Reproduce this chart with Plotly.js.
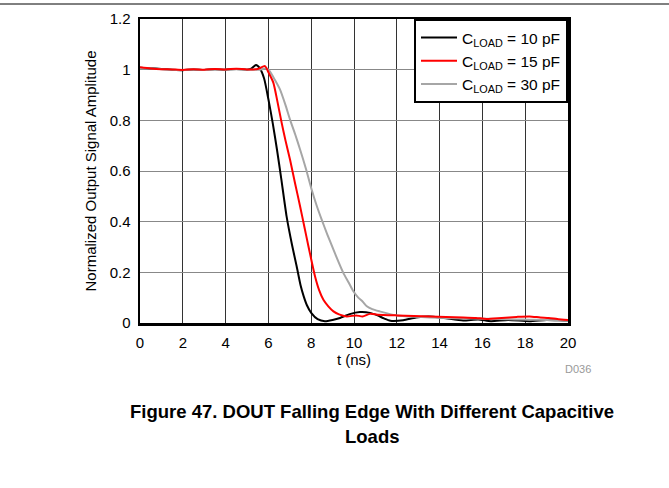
<!DOCTYPE html>
<html>
<head>
<meta charset="utf-8">
<script src="https://cdn.plot.ly/plotly-3.0.1.min.js"></script>
<style>html,body{margin:0;padding:0;background:#fff;}#chart{width:669px;height:488px;}</style>
</head>
<body>
<div id="chart"></div>
<script>
// Data
const t10 = [0,0.5,1,1.5,2,2.5,3,3.5,4,4.5,5,5.2,5.42,5.6,5.8,6.0,6.2,6.4,6.6,6.85,7.1,7.32,7.5,7.65,7.8,8.0,8.3,8.64,9.0,9.35,9.8,10.28,10.75,11.1,11.4,11.7,12.3,12.9,13.5,14.2,15.1,15.8,16.4,17.2,18.2,19.0,19.8,20];
const y10 = [1.008,1.006,1.003,1.0,0.998,1.001,0.999,1.002,1.0,1.003,1.0,1.004,1.018,1.005,0.965,0.883,0.79,0.685,0.57,0.421,0.31,0.224,0.15,0.105,0.07,0.04,0.015,0.007,0.012,0.02,0.035,0.043,0.04,0.03,0.018,0.009,0.011,0.022,0.026,0.02,0.01,0.014,0.007,0.012,0.007,0.012,0.01,0.01];

const t15 = [0,0.5,1,1.5,2,2.5,3,3.5,4,4.5,5,5.5,5.84,6.0,6.23,6.42,6.62,6.8,7.01,7.25,7.48,7.68,7.87,8.03,8.18,8.37,8.57,8.8,9.04,9.3,9.66,10.1,10.4,10.75,11.1,12.0,12.8,13.55,14.3,15.1,15.7,16.2,16.9,17.6,18.2,18.7,19.1,19.5,20];
const y15 = [1.01,1.005,1.002,1.001,0.999,1.002,1.0,1.003,1.001,1.004,1.001,1.003,1.014,0.99,0.949,0.875,0.79,0.72,0.645,0.55,0.461,0.38,0.303,0.24,0.184,0.13,0.092,0.066,0.046,0.034,0.026,0.03,0.026,0.036,0.033,0.03,0.028,0.026,0.024,0.022,0.02,0.016,0.02,0.024,0.026,0.022,0.02,0.016,0.012];

const t30 = [0,0.5,1,1.5,2,2.5,3,3.5,4,4.5,5,5.6,5.9,6.07,6.3,6.54,6.8,7.01,7.25,7.48,7.75,8.02,8.25,8.49,8.75,9.04,9.28,9.5,9.75,9.97,10.2,10.4,10.6,10.85,11.2,11.6,12.0,12.8,13.55,14.3,15.1,16.0,16.7,17.5,18.2,19.0,19.8,20];
const y30 = [1.007,1.006,1.002,1.0,0.999,1.001,0.999,1.001,1.0,1.002,1.0,1.0,1.006,0.993,0.96,0.922,0.86,0.803,0.745,0.685,0.61,0.527,0.465,0.408,0.35,0.29,0.24,0.198,0.16,0.125,0.1,0.085,0.066,0.055,0.046,0.037,0.03,0.025,0.022,0.02,0.018,0.017,0.016,0.014,0.013,0.012,0.01,0.01];

const names = ['C<sub>LOAD</sub> = 10 pF','C<sub>LOAD</sub> = 15 pF','C<sub>LOAD</sub> = 30 pF'];
const xTicks = [0,2,4,6,8,10,12,14,16,18,20];
const yTicks = [0,0.2,0.4,0.6,0.8,1,1.2];
const yTickText = ['0','0.2','0.4','0.6','0.8','1','1.2'];

const FONT = 'Liberation Sans, Arial, sans-serif';

const traces = [
  {x:t10, y:y10, name:names[0], mode:'lines', line:{color:'#000000', width:2, shape:'spline', smoothing:0.6}, legendrank:1},
  {x:t30, y:y30, name:names[2], mode:'lines', line:{color:'#a6a6a6', width:2, shape:'spline', smoothing:0.6}, legendrank:3},
  {x:t15, y:y15, name:names[1], mode:'lines', line:{color:'#ff0000', width:2, shape:'spline', smoothing:0.6}, legendrank:2}
];

const layout = {
  width:669, height:488,
  margin:{l:140, r:101, t:19, b:165},
  paper_bgcolor:'#ffffff', plot_bgcolor:'#ffffff',
  font:{family:FONT, size:15, color:'#000'},
  showlegend:true,
  legend:{x:1, y:1, xanchor:'right', yanchor:'top', bgcolor:'#ffffff', bordercolor:'#000', borderwidth:2,
          font:{family:FONT, size:15.5, color:'#000'}, tracegroupgap:0, itemwidth:36},
  xaxis:{range:[0,20], tickvals:xTicks, ticktext:xTicks.map(String), showgrid:true, gridcolor:'#333333', gridwidth:1,
         zeroline:false, showline:true, linecolor:'#000', linewidth:2.5, mirror:true, ticks:'', ticklen:0,
         ticklabelstandoff:4,
         tickfont:{family:FONT, size:15}, title:{text:'t (ns)', font:{family:FONT, size:15}, standoff:2}},
  yaxis:{range:[0,1.2], tickvals:yTicks, ticktext:yTickText, showgrid:true, gridcolor:'#888888', gridwidth:1,
         zeroline:false, showline:true, linecolor:'#000', linewidth:2.5, mirror:true, ticks:'', ticklen:0,
         ticklabelstandoff:4,
         tickfont:{family:FONT, size:15},
         title:{text:'Normalized Output Signal Amplitude', font:{family:FONT, size:15}, standoff:10}},
  shapes:[
    {type:'line', xref:'paper', yref:'paper', x0:-140/428, x1:(669-140)/428, y0:(323-4)/304, y1:(323-4)/304, line:{color:'#000', width:1}}
  ],
  annotations:[
    {text:'D036', xref:'paper', yref:'paper', x:(578-140)/428, y:(323-369)/304, xanchor:'center', yanchor:'middle', showarrow:false, font:{family:FONT, size:11, color:'#999999'}},
    {text:'<b>Figure 47. DOUT Falling Edge With Different Capacitive</b>', xref:'paper', yref:'paper', x:(371.5-140)/428, y:(323-411)/304, xanchor:'center', yanchor:'middle', showarrow:false, font:{family:FONT, size:18.5, color:'#000'}},
    {text:'<b>Loads</b>', xref:'paper', yref:'paper', x:(371.5-140)/428, y:(323-436)/304, xanchor:'center', yanchor:'middle', showarrow:false, font:{family:FONT, size:18.5, color:'#000'}}
  ]
};

Plotly.newPlot('chart', traces, layout, {displayModeBar:false, staticPlot:true});
</script>
</body>
</html>
